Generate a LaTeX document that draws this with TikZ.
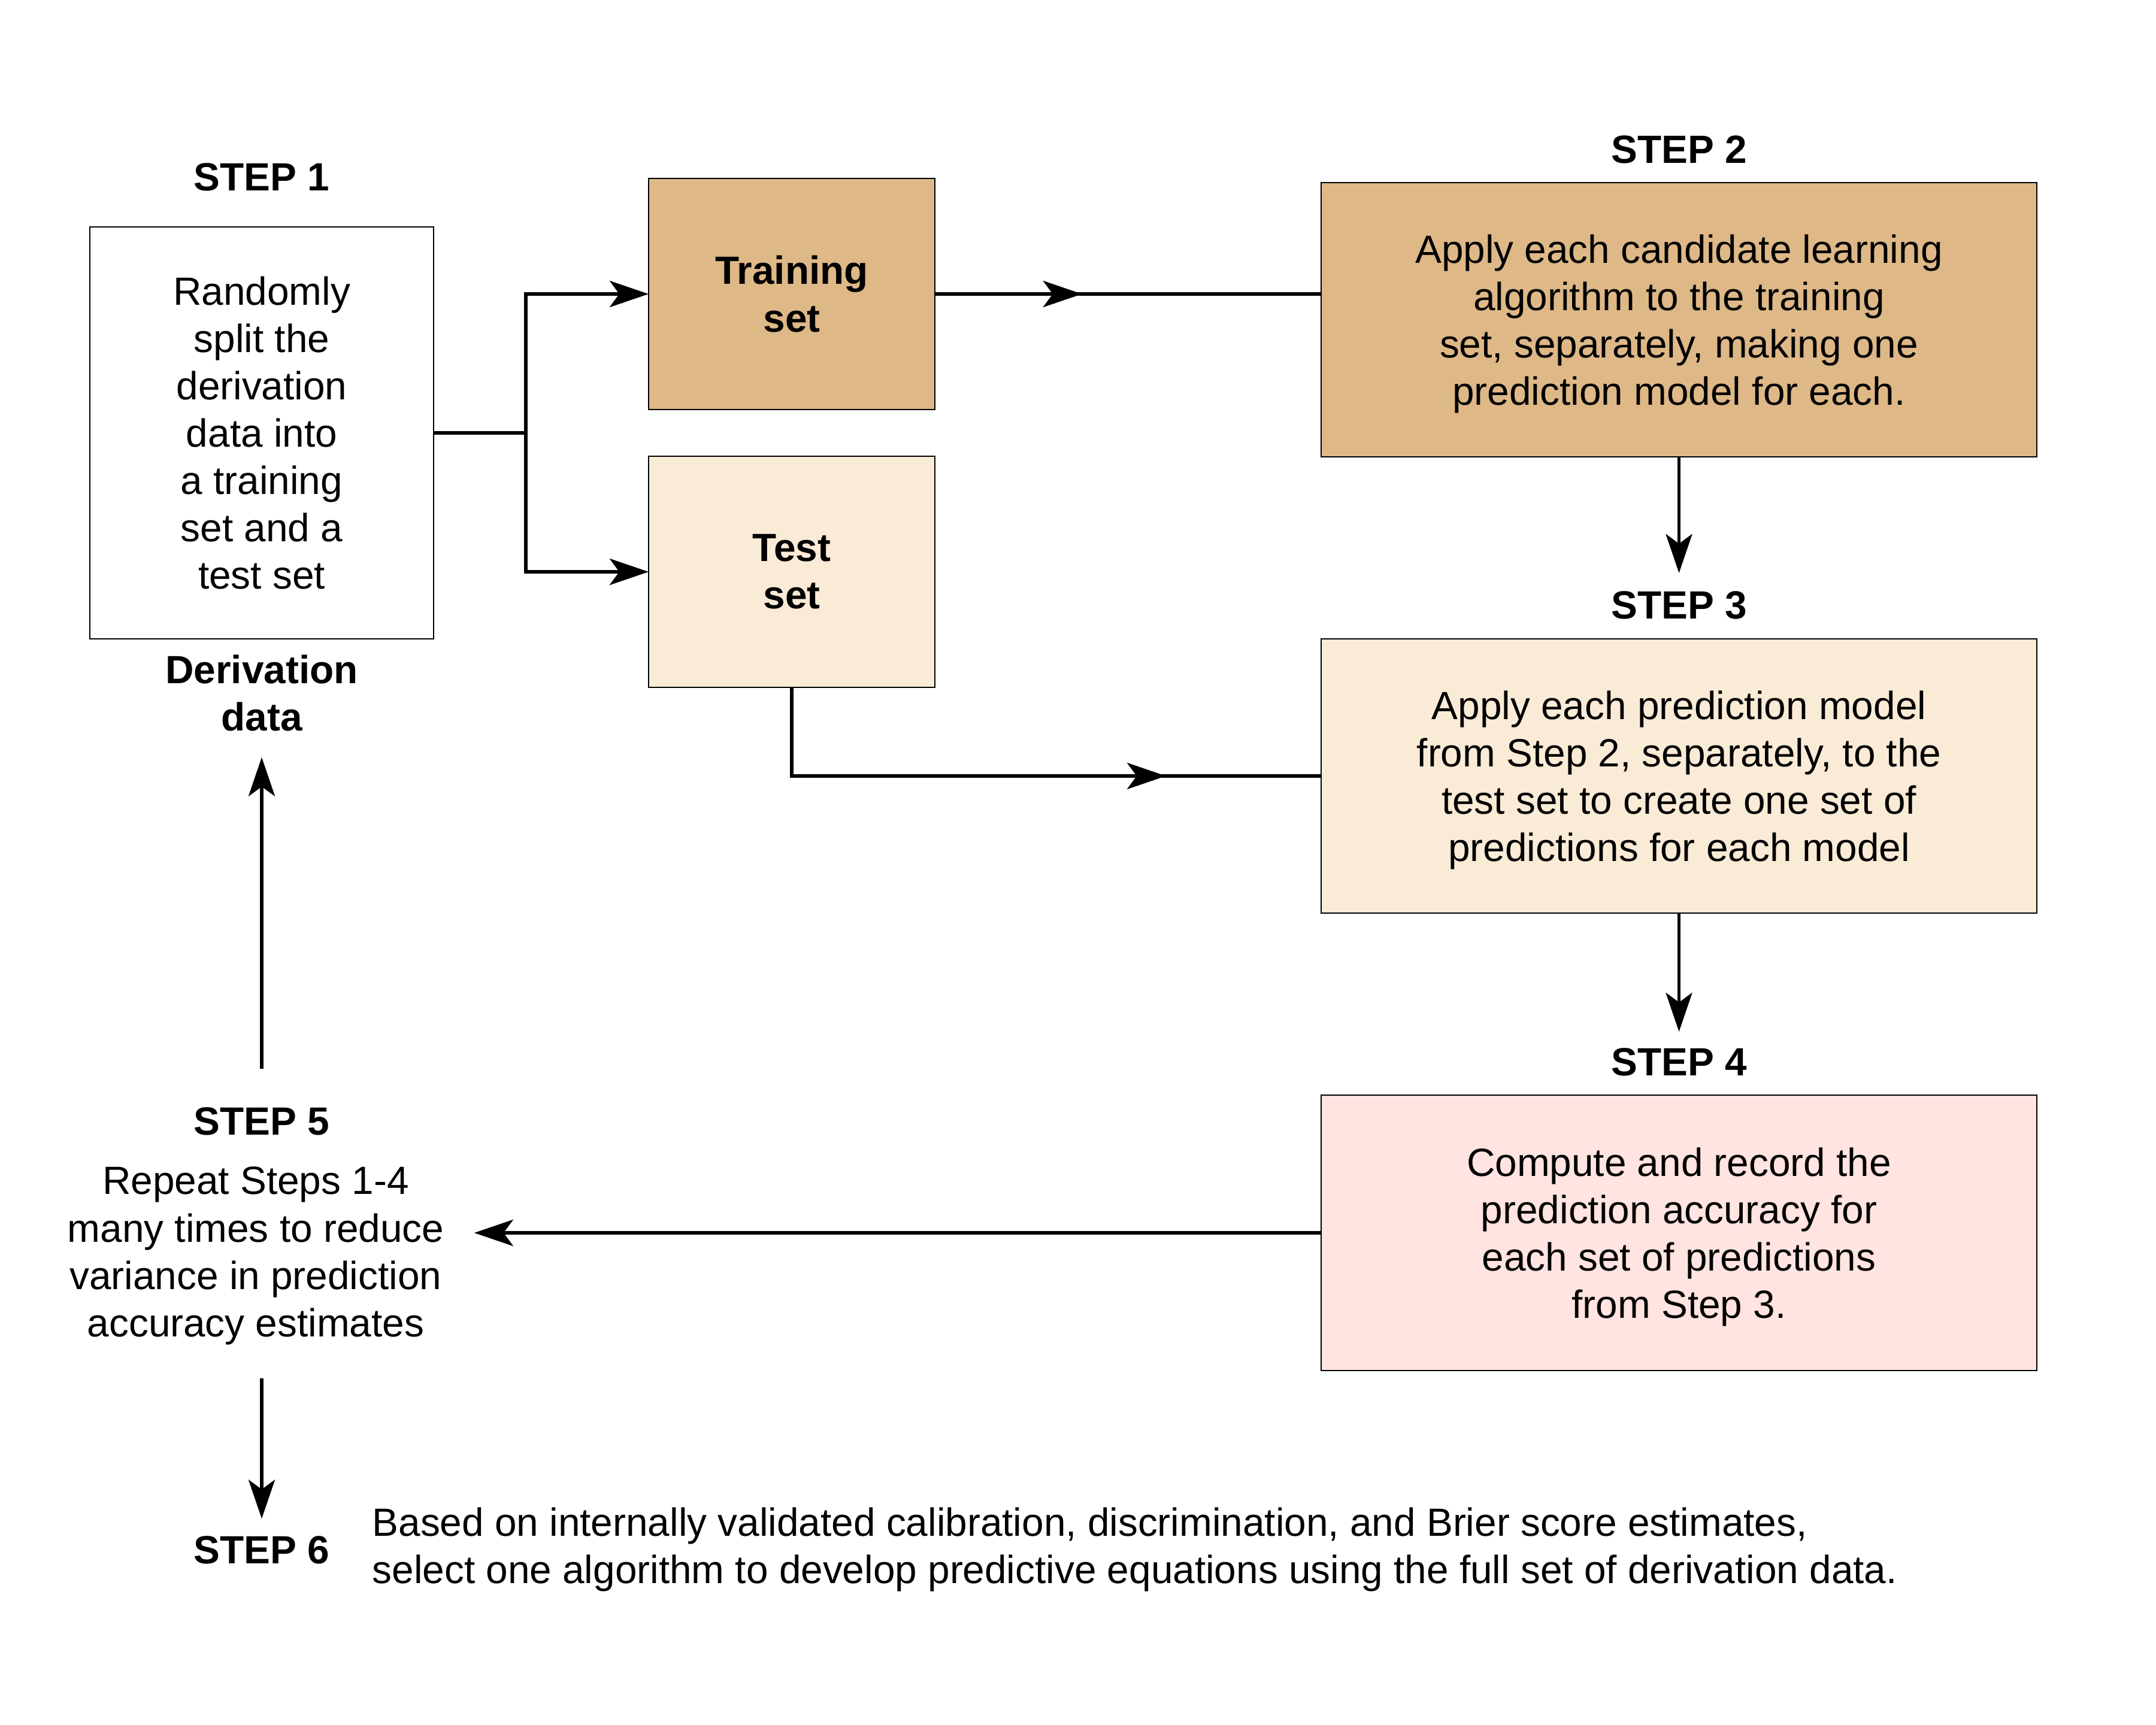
\documentclass[tikz,border=0pt]{standalone}
\usepackage{fontspec}
\setmainfont{Liberation Sans}
\usetikzlibrary{arrows.meta,positioning,decorations.markings}
\definecolor{trainfill}{RGB}{222,184,135}
\definecolor{testfill}{RGB}{250,235,215}
\definecolor{recordfill}{RGB}{255,228,225}
\newcommand{\bodyfont}{\fontsize{18.7}{22.5}\selectfont}
\tikzset{
    stepbox/.style={rectangle, draw=black, line width=0.65pt, inner sep=0pt, outer sep=0pt, align=center, font=\bodyfont},
    widebox/.style={stepbox, minimum width=11.95cm, minimum height=4.58cm, text depth=0pt},
    steplabel/.style={font=\bodyfont\bfseries, inner sep=0pt, align=center},
    steptext/.style={font=\bodyfont, inner sep=0pt},
    pil/.style={-{Stealth[length=6.5mm, width=4.4mm, inset=1.6mm]}, line width=1.6pt},
    link/.style={line width=1.6pt},
    midpil/.style={link, postaction={decorate}, decoration={markings,
        mark=at position #1 with {\arrow{Stealth[length=6.5mm, width=4.4mm, inset=1.6mm]}}}}
}
\begin{document}
\begin{tikzpicture}[x=1cm, y=-1cm]
    \useasboundingbox (0,0) rectangle (36,28.8);
    % boxes
    \node[stepbox, fill=white, minimum width=5.74cm, minimum height=6.88cm] (s1) at (4.37,7.23)
      {Randomly\\split the\\derivation\\data into\\a training\\set and a\\test set};
    \node[stepbox, fill=trainfill, minimum width=4.78cm, minimum height=3.86cm, font=\bodyfont\bfseries] (train) at (13.22,4.91)
      {Training\\set};
    \node[stepbox, fill=testfill, minimum width=4.78cm, minimum height=3.86cm, font=\bodyfont\bfseries, below=0.78cm of train] (test)
      {Test\\set};
    \node[widebox, fill=trainfill] (s2) at (28.035,5.34)
      {Apply each candidate learning\\algorithm to the training\\set, separately, making one\\prediction model for each.};
    \node[widebox, fill=testfill, below=3.04cm of s2] (s3)
      {Apply each prediction model\\from Step 2, separately, to the\\test set to create one set of\\predictions for each model};
    \node[widebox, fill=recordfill, minimum height=4.6cm, below=3.04cm of s3] (s4)
      {Compute and record the\\prediction accuracy for\\each set of predictions\\from Step 3.};
    % labels
    \node[steplabel, above=0.59cm of s1] (l1) {STEP 1};
    \node[steplabel, above=0.31cm of s2] (l2) {STEP 2};
    \node[steplabel, above=0.32cm of s3] (l3) {STEP 3};
    \node[steplabel, above=0.31cm of s4] (l4) {STEP 4};
    \node[steplabel, below=0.26cm of s1] (deriv) {Derivation\\data};
    \node[steplabel, anchor=base] (l5) at (4.37,18.95) {STEP 5};
    \node[steptext, align=center, below=0.52cm of l5, xshift=-0.1cm] (s5)
      {Repeat Steps 1-4\\many times to reduce\\variance in prediction\\accuracy estimates};
    \node[steplabel, anchor=base] (l6) at (4.37,26.11) {STEP 6};
    \node[steptext, align=left, right=0.7cm of l6] (s6)
      {Based on internally validated calibration, discrimination, and Brier score estimates,\\select one algorithm to develop predictive equations using the full set of derivation data.};
    % connectors
    \draw[link] (s1.east) -- ++(1.54,0) coordinate (split);
    \draw[pil] (split) |- (train.west);
    \draw[pil] (split) |- (test.west);
    \draw[midpil=0.381] (train.east) -- (train.east -| s2.west);
    \draw[midpil=0.749] (test.south) |- (s3.west);
    \draw[pil, shorten >=0.03cm] (s2.south) -- ++(0,1.97);
    \draw[pil] (s3.south) -- ++(0,1.98);
    \draw[pil, shorten >=0.5cm] (s4.west) -- (s4.west -| s5.east);
    \draw[pil, shorten <=0.63cm, shorten >=0.43cm] (l5.north) -- (deriv.south);
    \draw[pil, shorten <=0.55cm, shorten >=0.28cm] (s5.south -| l6.north) -- (l6.north);
\end{tikzpicture}
\end{document}
